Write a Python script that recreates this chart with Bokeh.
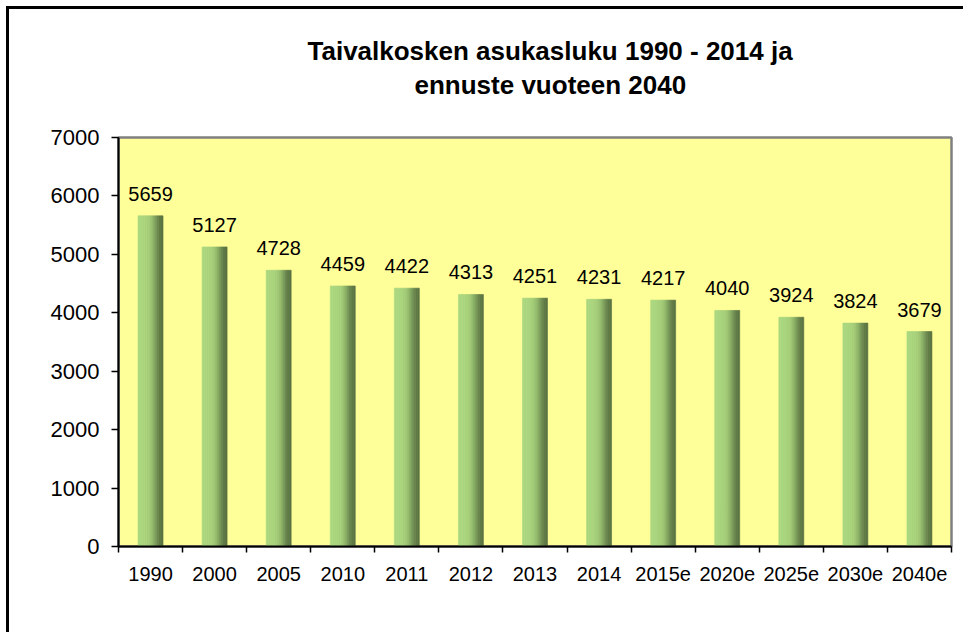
import numpy as np
from bokeh.plotting import figure
from bokeh.models import ColumnDataSource, FixedTicker, LabelSet, Title, Range1d
from bokeh.transform import dodge
from bokeh.core.properties import value
from bokeh.embed import file_html
from bokeh.resources import INLINE

categories = ["1990", "2000", "2005", "2010", "2011", "2012", "2013", "2014",
              "2015e", "2020e", "2025e", "2030e", "2040e"]
population = [5659, 5127, 4728, 4459, 4422, 4313, 4251, 4231, 4217, 4040, 3924, 3824, 3679]
y_ticks = [0, 1000, 2000, 3000, 4000, 5000, 6000, 7000]
title_lines = ["Taivalkosken asukasluku 1990 - 2014 ja", "ennuste vuoteen 2040"]

# horizontal shading of each bar (light left -> dark right)
strip_colors = ["#abd781", "#aad680", "#a9d57f", "#a8d37d", "#a6d07b", "#a2cb78",
                "#99c071", "#8bb067", "#7b9d5c", "#6c8a51", "#617c48", "#5b7443"]

centers = [i + 0.5 for i in range(len(categories))]
bounds = list(range(len(categories) + 1))

src = ColumnDataSource(dict(x=centers, top=population, label=[str(v) for v in population]))

W, H = 957, 626
p = figure(width=W, height=H, output_backend="svg", toolbar_location=None,
           x_range=Range1d(0, len(categories)), y_range=Range1d(0, 7000),
           min_border_left=109, min_border_right=15, min_border_top=128, min_border_bottom=89)
p.styles = {"border-left": "3px solid black", "border-top": "3px solid black",
            "margin-left": "6px", "margin-top": "6px"}

p.background_fill_color = "#FFFF99"
p.border_fill_color = "white"
p.outline_line_color = "#808080"
p.outline_line_width = 2.5
p.xgrid.visible = False
p.ygrid.visible = False

bar_w = 0.39
n = len(strip_colors)
sw = bar_w / n
for k, c in enumerate(strip_colors):
    off = -bar_w / 2 + sw * (k + 0.5)
    p.vbar(x=dodge("x", off), top="top", bottom=0, width=sw, source=src,
           fill_color=c, line_color=c, line_width=0.6)

labels = LabelSet(x="x", y="top", text="label", source=src, text_align="center",
                  text_baseline="alphabetic", y_offset=15,
                  text_font=value("Liberation Sans"), text_font_size=value("20px"),
                  text_color="black")
p.add_layout(labels)

# axes
ya = p.yaxis[0]
ya.ticker = FixedTicker(ticks=y_ticks)
ya.axis_line_color = "black"
ya.axis_line_width = 2
ya.major_tick_out = 7
ya.major_tick_in = 0
ya.major_tick_line_width = 1.5
ya.major_tick_line_color = "black"
ya.minor_tick_line_color = None
ya.major_label_text_font = "Liberation Sans"
ya.major_label_text_font_size = "22px"
ya.major_label_text_color = "black"
ya.major_label_standoff = 12

xa = p.xaxis[0]
xa.ticker = FixedTicker(ticks=centers, minor_ticks=bounds)
xa.major_label_overrides = {c: lab for c, lab in zip(centers, categories)}
xa.axis_line_color = "black"
xa.axis_line_width = 2
xa.major_tick_line_color = None
xa.major_tick_out = 0
xa.major_tick_in = 0
xa.minor_tick_out = 6
xa.minor_tick_in = 0
xa.minor_tick_line_color = "black"
xa.minor_tick_line_width = 1.5
xa.major_label_text_font = "Liberation Sans"
xa.major_label_text_font_size = "20px"
xa.major_label_text_color = "black"
xa.major_label_standoff = 14

# two-line title (second line added first: it sits nearest the plot)
for t, so, off in zip(reversed(title_lines), [76, -73], [296, 189]):
    p.add_layout(Title(text=t, align="left", offset=off, standoff=so,
                       text_font="Liberation Sans", text_font_style="bold",
                       text_font_size="26px", text_color="black"), "above")

open("out.html", "w").write(file_html(p, INLINE))
